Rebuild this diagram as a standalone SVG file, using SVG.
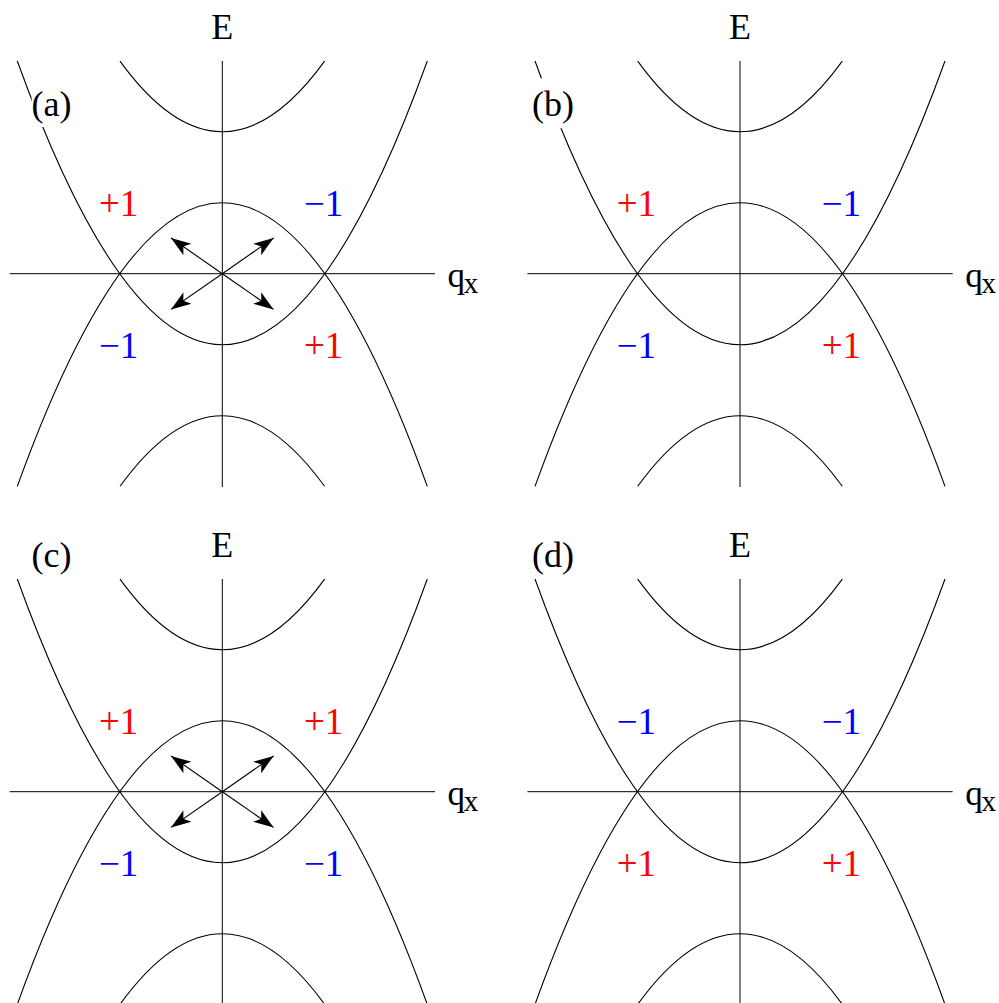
<svg xmlns="http://www.w3.org/2000/svg" width="999" height="1003" viewBox="0 0 999 1003">
<style>
.ax{fill:none;stroke:#000;stroke-width:1}
.cv{fill:none;stroke:#000;stroke-width:1.1}
.t{font-family:"Liberation Serif","Times New Roman",serif;font-size:36px;fill:#000}
.q{font-family:"Liberation Serif","Times New Roman",serif;font-size:35px;fill:#000}
.sub{font-family:"Liberation Serif","Times New Roman",serif;font-size:29px;fill:#000}
.n{font-family:"Liberation Serif","Times New Roman",serif;font-size:37px}
.red{fill:#ff0000}
.blue{fill:#0000ff}
.bg{fill:#fff;stroke:none}
.arr{fill:none;stroke:#000;stroke-width:1.1;marker-end:url(#head)}
</style>
<defs>
<marker id="head" viewBox="-21 -8 22 16" refX="0" refY="0" markerWidth="22" markerHeight="16" markerUnits="userSpaceOnUse" orient="auto">
<path d="M0,0 L-20,-7 L-15,0 L-20,7 Z" fill="#000"/>
</marker>
<g id="frame">
<path class="ax" d="M0,-212.7 V213.3"/>
<path class="ax" d="M-212.6,0 H212.7"/>
<path class="cv" d="M-102.3,-212.6 Q0,-71.4 102.3,-212.6"/>
<path class="cv" d="M-205,-212.7 Q0,354.7 205,-212.7"/>
<path class="cv" d="M-205,212.7 Q0,-354.7 205,212.7"/>
<path class="cv" d="M-102.3,212.6 Q0,71.4 102.3,212.6"/>
<text class="t" x="0" y="-234.7" text-anchor="middle">E</text>
<text class="q" x="225.2" y="13.3">q</text>
<text class="sub" x="241.5" y="19.3">x</text>
</g>
</defs>

<g id="panel-a">
<use href="#frame" transform="translate(222.3,273.7)"/>
<g transform="translate(222.3,273.7)">
<text class="n red" x="-123.3" y="-57.7">+1</text>
<text class="n blue" x="81.7" y="-57.7">−1</text>
<text class="n blue" x="-123.3" y="84.3">−1</text>
<text class="n red" x="81.7" y="84.3">+1</text>
</g>
<rect class="bg" x="31.7" y="78" width="42" height="49"/>
<text class="t" x="31.5" y="116">(a)</text>
</g>

<g id="panel-b">
<use href="#frame" transform="translate(740,273.7)"/>
<g transform="translate(740,273.7)">
<text class="n red" x="-123.3" y="-57.7">+1</text>
<text class="n blue" x="81.7" y="-57.7">−1</text>
<text class="n blue" x="-123.3" y="84.3">−1</text>
<text class="n red" x="81.7" y="84.3">+1</text>
</g>
<rect class="bg" x="531" y="78.3" width="43" height="50"/>
<text class="t" x="532" y="116">(b)</text>
</g>

<g id="panel-c">
<use href="#frame" transform="translate(222.3,791.7)"/>
<g transform="translate(222.3,791.7)">
<text class="n red" x="-123.3" y="-57.7">+1</text>
<text class="n red" x="81.7" y="-57.7">+1</text>
<text class="n blue" x="-123.3" y="84.3">−1</text>
<text class="n blue" x="81.7" y="84.3">−1</text>
</g>
<text class="t" x="31.5" y="567">(c)</text>
</g>

<g id="panel-d">
<use href="#frame" transform="translate(740,791.7)"/>
<g transform="translate(740,791.7)">
<text class="n blue" x="-123.3" y="-57.7">−1</text>
<text class="n blue" x="81.7" y="-57.7">−1</text>
<text class="n red" x="-123.3" y="84.3">+1</text>
<text class="n red" x="81.7" y="84.3">+1</text>
</g>
<text class="t" x="532" y="567">(d)</text>
</g>

<g id="connectors">
<path class="arr" d="M222.3,273.7 L171,238"/>
<path class="arr" d="M222.3,273.7 L273.6,238"/>
<path class="arr" d="M222.3,273.7 L171,309.4"/>
<path class="arr" d="M222.3,273.7 L273.6,309.4"/>
<path class="arr" d="M222.3,791.7 L171,756"/>
<path class="arr" d="M222.3,791.7 L273.6,756"/>
<path class="arr" d="M222.3,791.7 L171,827.4"/>
<path class="arr" d="M222.3,791.7 L273.6,827.4"/>
</g>
</svg>
